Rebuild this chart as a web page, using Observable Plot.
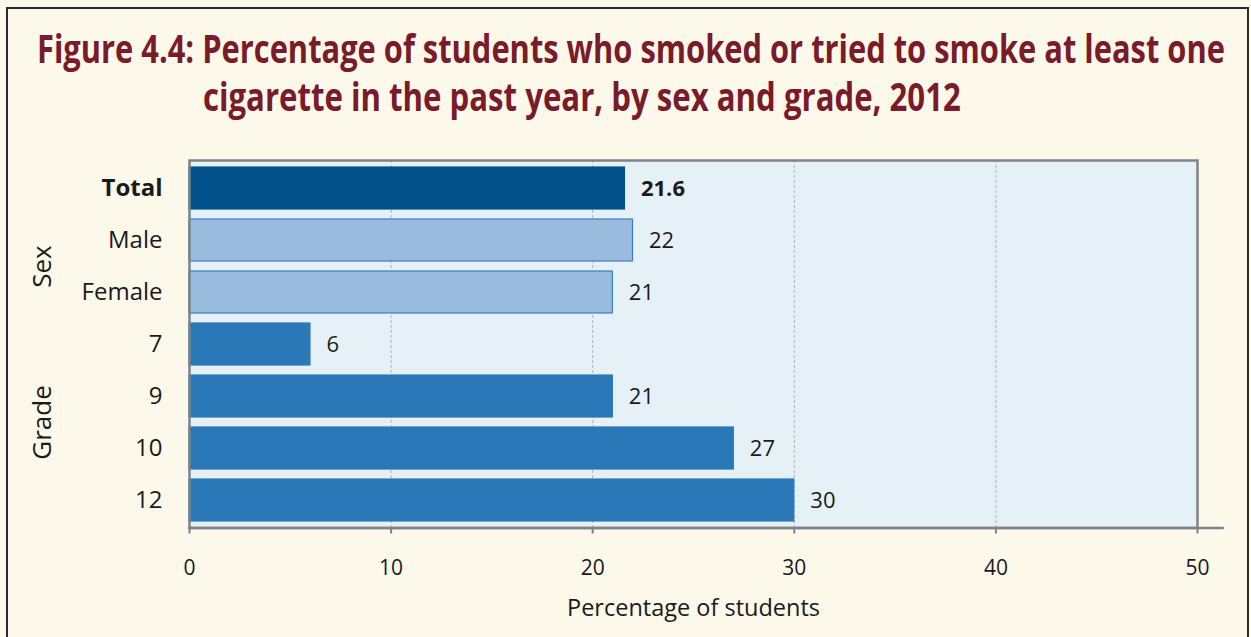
<!DOCTYPE html>
<html><head><meta charset="utf-8">
<script src="https://cdn.jsdelivr.net/npm/d3@7"></script>
<script src="https://cdn.jsdelivr.net/npm/@observablehq/plot@0.6"></script>
<style>
html,body{margin:0;padding:0;background:#fcf8ea;}
#wrap{position:relative;width:1251px;height:637px;overflow:hidden;background:#fcf8ea;}
#border{position:absolute;left:6px;top:7px;width:1243px;height:700px;border:2px solid #2b2b2b;box-sizing:border-box;}
.tline{position:absolute;white-space:nowrap;font-family:'Open Sans',sans-serif;font-weight:bold;font-size:39px;line-height:39px;color:#7a1b2a;transform-origin:0 50%;display:inline-block;}
#chart{position:absolute;left:0;top:0;}
#chart g[aria-label="x-axis tick"]{color:#7d838a;stroke-width:2;}
</style></head><body>
<div id="wrap">
<div id="border"></div>
<div class="tline" id="t1" style="left:37px;top:28px;" data-w="1188">Figure 4.4: Percentage of students who smoked or tried to smoke at least one</div>
<div class="tline" id="t2" style="left:203px;top:76px;" data-w="758">cigarette in the past year, by sex and grade, 2012</div>
<div id="chart"></div>
</div>
<script>
const categories = ["Total", "Male", "Female", "7", "9", "10", "12"];
const values = [21.6, 22, 21, 6, 21, 27, 30];
const groups = ["Total", "Sex", "Sex", "Grade", "Grade", "Grade", "Grade"];
const groupLabels = ["Sex", "Grade"];
const groupAnchors = ["Male", "9"];
const xTicks = [0, 10, 20, 30, 40, 50];
const gridTicks = [10, 20, 30, 40];
const xLabel = "Percentage of students";

const fillBy = {Total: "#03528c", Sex: "#99bbdd", Grade: "#2a78b8"};
const strokeBy = {Total: "#03528c", Sex: "#3b7fc0", Grade: "#2a78b8"};
const rows = categories.map((c, i) => ({cat: c, value: values[i], group: groups[i]}));
const axisGrey = "#7d838a";
const ink = "#1a1a1a";

for (const el of document.querySelectorAll(".tline")) {
  const target = +el.dataset.w;
  const natural = el.offsetWidth;
  el.style.transform = `scaleX(${target / natural})`;
}

const chart = Plot.plot({
  width: 1251, height: 637,
  marginLeft: 189, marginRight: 54, marginTop: 160, marginBottom: 109.5,
  style: {background: "transparent", fontFamily: "'Open Sans', sans-serif", fontSize: "21px", color: ink, overflow: "visible"},
  x: {domain: [0, 50], ticks: xTicks, tickSize: 6, tickPadding: 26, label: null},
  y: {domain: categories, paddingInner: 0.2, paddingOuter: 0.12, axis: null},
  color: {type: "identity"},
  marks: [
    Plot.frame({fill: "#e6f0f7", stroke: "none"}),
    Plot.ruleX(gridTicks, {stroke: "#aab4bd", strokeDasharray: "3,2", strokeWidth: 1}),
    Plot.barX(rows, {x: "value", y: "cat", fill: d => fillBy[d.group], stroke: d => strokeBy[d.group], strokeWidth: 1.2}),
    Plot.frame({stroke: axisGrey, strokeWidth: 2.5, fill: "none"}),
    Plot.frame({anchor: "bottom", stroke: axisGrey, strokeWidth: 2.5, insetRight: -25}),
    Plot.text(rows, {filter: d => d.group !== "Total", x: "value", y: "cat", text: d => String(d.value), dx: 16, textAnchor: "start", fontSize: 22, fill: ink}),
    Plot.text(rows, {filter: d => d.group === "Total", x: "value", y: "cat", text: d => String(d.value), dx: 16, textAnchor: "start", fontSize: 22, fontWeight: "bold", fill: ink}),
    Plot.text(rows, {filter: d => d.group !== "Total", y: "cat", frameAnchor: "left", dx: -27, textAnchor: "end", text: "cat", fontSize: 24, fill: ink}),
    Plot.text(rows, {filter: d => d.group === "Total", y: "cat", frameAnchor: "left", dx: -27, textAnchor: "end", text: "cat", fontSize: 24, fontWeight: "bold", fill: ink}),
    Plot.text(groupLabels, {y: (d, i) => groupAnchors[i], text: d => d, frameAnchor: "left", textAnchor: "middle", dx: -147, dy: 26, rotate: -90, fontSize: 26, fill: ink}),
    Plot.text([xLabel], {text: d => d, frameAnchor: "bottom", dy: 88, fontSize: 23.5, fill: ink})
  ]
});
document.getElementById("chart").appendChild(chart);
</script>
</body></html>
